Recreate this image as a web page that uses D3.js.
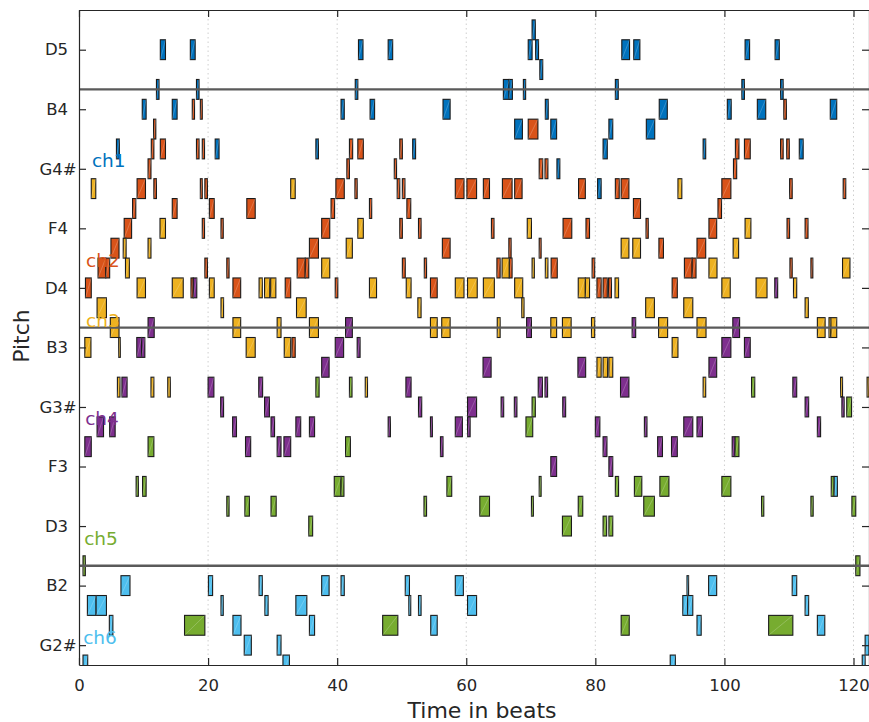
<!DOCTYPE html>
<html lang="en">
<head>
<meta charset="utf-8">
<script src="https://d3js.org/d3.v7.min.js"></script>
<style>
  body { margin: 0; background: #fff; }
  text { font-family: "DejaVu Sans", sans-serif; }
</style>
</head>
<body>
<svg width="869" height="722"></svg>
<script>
// notes as [start beat, duration, midi pitch]
var ch1 = [
  [12.6,0.8,74],[17.25,0.75,74],[43.3,0.7,74],[47.9,0.7,74],[69.6,0.6,74],[70.75,0.45,74],[84.1,1.2,74],[85.95,0.95,74],[103.2,0.7,74],[107.85,0.65,74],
  [70.2,0.5,75],[71.4,0.45,73],
  [12.0,0.4,72],[18.2,0.4,72],[42.8,0.4,72],[65.75,0.95,72],[66.6,0.55,72],[68.85,0.35,72],[83.1,0.45,72],[102.7,0.4,72],[108.7,0.4,72],
  [9.8,0.6,71],[14.45,0.75,71],[40.6,0.5,71],[45.1,0.7,71],[56.4,1.1,71],[72.25,0.45,71],[89.9,1.25,71],[100.45,0.6,71],[105.1,1.3,71],[116.4,1.0,71],
  [67.5,1.2,70],[73.1,0.9,70],[82.1,0.6,70],[87.9,1.3,70],
  [5.8,0.45,69],[21.1,0.6,69],[36.7,0.4,69],[51.7,0.45,69],[81.2,0.65,69],[96.7,0.4,69],[111.6,0.6,69],
  [74.05,0.45,68],[80.35,0.55,67]
];
var ch2 = [
  [17.55,0.35,71],[18.8,0.3,71],[109.2,0.4,71],
  [11.55,0.35,70],[69.6,1.5,70],
  [11.2,0.4,69],[12.6,0.8,69],[18.2,0.4,69],[19.1,0.35,69],[41.9,0.5,69],[43.2,0.85,69],[49.7,0.4,69],[101.7,0.55,69],[103.1,0.9,69],[108.7,0.4,69],[109.65,0.4,69],
  [10.7,0.45,68],[41.5,0.4,68],[48.85,0.35,68],[71.3,0.55,68],[72.2,0.45,68],[101.4,0.5,68],
  [9.0,1.3,67],[11.6,0.4,67],[18.8,0.3,67],[19.5,0.4,67],[39.8,1.3,67],[42.75,0.35,67],[49.3,0.4,67],[50.1,0.4,67],[58.3,1.35,67],[60.1,1.5,67],[62.65,0.95,67],[65.6,1.5,67],[67.5,1.15,67],[77.4,1.05,67],[83.1,0.6,67],[84.0,1.2,67],[99.6,1.4,67],[110.1,0.4,67],[118.4,0.4,67],
  [8.3,0.5,66],[14.45,0.75,66],[20.2,0.75,66],[26.0,1.3,66],[39.05,0.55,66],[45.0,0.35,66],[50.8,0.6,66],[85.9,1.1,66],[99.0,0.55,66],
  [7.0,1.15,65],[37.6,1.25,65],[75.0,1.35,65],[97.6,1.2,65],[19.1,0.35,65],[22.0,0.35,65],[49.7,0.4,65],[52.6,0.4,65],[63.9,0.4,65],[78.55,0.55,65],[87.85,0.35,65],[109.7,0.4,65],[112.5,0.45,65],
  [4.95,1.25,64],[35.7,1.4,64],[56.3,1.2,64],[89.85,0.7,64],[95.75,1.35,64],[66.6,0.35,64],[71.3,0.3,64],
  [2.95,1.2,63],[33.8,1.25,63],[73.15,0.95,63],[79.5,0.4,63],[93.8,1.2,63],[4.15,0.6,63],[35.05,0.55,63],[53.5,0.35,63],[64.75,0.5,63],[66.65,0.45,63],[95.0,0.6,63],[19.5,0.4,63],[22.9,0.35,63],[50.1,0.45,63],[110.15,0.35,63],[113.4,0.3,63],
  [1.0,0.9,62],[23.85,1.2,62],[31.95,0.85,62],[54.45,1.05,62],[80.25,0.65,62],[81.2,0.65,62],[82.05,0.45,62],[91.9,0.8,62],[17.35,0.35,62],[39.7,0.4,62],
  [33.0,0.5,59]
];
var ch3 = [
  [1.9,0.7,67],[32.8,0.7,67],[92.8,0.6,67],
  [12.55,0.85,65],[43.2,0.85,65],[69.45,0.65,65],[103.2,0.9,65],
  [6.85,0.45,64],[10.7,0.45,64],[41.4,0.95,64],[84.0,1.2,64],[85.8,1.2,64],[101.35,0.85,64],
  [7.2,0.6,63],[37.6,1.25,63],[65.55,1.1,63],[70.2,0.35,63],[72.25,0.4,63],[97.6,1.25,63],[118.3,1.15,63],
  [9.0,1.3,62],[14.45,1.7,62],[20.2,0.75,62],[27.9,0.5,62],[28.75,0.8,62],[29.7,0.8,62],[45.0,1.1,62],[50.7,0.75,62],[58.3,1.35,62],[60.2,1.5,62],[62.65,1.7,62],[67.5,1.25,62],[77.35,1.1,62],[78.45,0.65,62],[83.05,0.55,62],[99.6,1.3,62],[104.9,1.7,62],[110.7,0.5,62],
  [2.8,1.45,61],[22.0,0.4,61],[33.7,1.5,61],[52.5,0.5,61],[68.6,0.35,61],[87.8,1.35,61],[93.7,1.4,61],[112.5,0.5,61],
  [4.85,1.35,60],[23.85,1.2,60],[30.7,0.6,60],[35.7,1.4,60],[54.45,1.05,60],[56.2,1.3,60],[64.8,0.45,60],[73.1,0.9,60],[74.9,1.35,60],[79.4,0.5,60],[89.8,1.4,60],[95.75,1.4,60],[114.4,1.2,60],[116.2,0.3,60],[116.5,0.9,60],
  [0.9,0.95,59],[25.9,1.4,59],[31.8,1.0,59],[91.9,0.9,59],[6.15,0.25,59],
  [80.25,0.65,58],[81.2,0.7,58],[82.1,0.6,58],
  [11.15,0.45,57],[5.95,0.4,57],[13.75,0.4,57],[44.35,0.35,57],[96.7,0.4,57],[118.0,0.3,57],[122.1,0.3,57]
];
var ch4 = [
  [17.7,0.55,62],[107.8,0.45,62],
  [10.7,0.95,60],[41.3,1.05,60],[69.35,0.75,60],[85.7,0.55,60],[101.3,1.05,60],
  [8.95,0.75,59],[9.7,0.5,59],[39.7,1.3,59],[43.1,0.45,59],[99.6,1.4,59],[103.1,0.9,59],
  [37.6,1.15,58],[62.6,1.25,58],[77.3,1.2,58],[97.6,1.2,58],
  [6.65,0.8,57],[20.0,0.9,57],[27.85,0.6,57],[50.65,0.8,57],[71.15,0.65,57],[72.2,0.4,57],[83.9,1.3,57],[110.6,0.6,57],
  [21.95,0.45,56],[65.4,0.4,56],[67.45,0.4,56],[118.2,0.35,56],[28.75,0.75,56],[52.6,0.5,56],[60.2,1.4,56],[74.95,0.45,56],[112.5,0.55,56],
  [2.8,1.0,55],[4.75,0.85,55],[23.8,0.6,55],[29.75,0.55,55],[33.6,0.75,55],[35.7,0.8,55],[58.3,1.1,55],[93.7,1.4,55],[95.75,0.85,55],[114.4,0.5,55],[47.9,0.35,55],[54.45,0.3,55],[60.2,0.4,55],[80.0,0.7,55],[87.6,0.4,55],
  [0.9,1.0,54],[25.8,0.8,54],[30.7,0.6,54],[31.75,1.05,54],[81.2,0.6,54],[89.65,0.75,54],[91.8,0.9,54],[56.0,0.4,54],[101.2,0.45,54],
  [73.1,0.9,53],[82.1,0.6,53]
];
var ch5 = [
  [36.7,0.5,57],[41.9,0.4,57],[104.2,0.5,57],
  [70.2,0.5,56],[118.95,0.75,56],
  [69.25,1.05,55],
  [10.7,0.9,54],[41.3,0.75,54],[101.65,0.6,54],
  [8.85,0.35,52],[39.55,1.05,52],[40.6,0.45,52],[57.0,0.75,52],[83.1,0.5,52],[86.05,1.15,52],[90.0,1.4,52],[99.6,1.4,52],[116.55,0.45,52],[9.85,0.55,52],[71.3,0.3,52],
  [22.9,0.35,51],[53.45,0.4,51],[70.1,0.3,51],[105.75,0.35,51],[113.4,0.35,51],[25.7,0.7,51],[29.75,0.8,51],[62.1,1.5,51],[77.35,0.7,51],[87.5,1.65,51],[119.75,0.6,51],
  [35.6,0.6,50],[74.9,1.4,50],[81.2,0.55,50],[82.1,0.6,50],
  [0.62,0.36,48],[120.35,0.65,48],
  [16.35,3.15,45],[47.05,2.35,45],[84.0,1.25,45],[106.85,3.75,45]
];
var ch6 = [
  [117.0,0.5,52],
  [6.5,1.4,47],[20.05,0.65,47],[27.9,0.5,47],[37.6,1.15,47],[40.6,0.5,47],[50.55,0.65,47],[58.3,1.25,47],[97.55,1.25,47],[110.5,0.7,47],[94.2,0.25,47],
  [1.3,1.35,46],[2.65,1.6,46],[28.8,0.5,46],[33.6,1.7,46],[60.2,1.4,46],[93.55,0.75,46],[94.3,0.8,46],[112.5,0.55,46],[22.0,0.35,46],[51.1,0.3,46],[52.6,0.4,46],
  [4.7,0.55,45],[23.85,1.25,45],[35.7,0.8,45],[54.5,1.0,45],[95.75,0.65,45],[114.4,1.15,45],
  [25.6,1.1,44],[30.7,0.6,44],[121.8,0.6,44],
  [0.62,0.73,43],[31.6,1.0,43],[91.6,0.8,43],[121.35,0.45,43]
];
var channelNames = ["ch1", "ch2", "ch3", "ch4", "ch5", "ch6"];
var pitchTicks = [44, 47, 50, 53, 56, 59, 62, 65, 68, 71, 74];
var pitchLabels = ["G2#", "B2", "D3", "F3", "G3#", "B3", "D4", "F4", "G4#", "B4", "D5"];
var beatTicks = [0, 20, 40, 60, 80, 100, 120];
var octaveLines = [48, 60, 72];

var colors = ["#0072BD", "#D95319", "#EDB120", "#7E2F8E", "#77AC30", "#4DBEEE"];
var labelPos = [[2.0, 68.1], [1.1, 63.05], [1.1, 60.05], [0.95, 55.1], [0.8, 49.05], [0.65, 44.05]];

var svg = d3.select("svg");
var mLeft = 79, mTop = 10, mRight = 869, mBottom = 665;
var x = d3.scaleLinear().domain([0, 122.4]).range([mLeft, mRight]);
var y = d3.scaleLinear().domain([43, 76]).range([mBottom, mTop]);
var ink = "#262626";

svg.append("clipPath").attr("id", "plot")
  .append("rect").attr("x", mLeft).attr("y", mTop).attr("width", mRight - mLeft).attr("height", mBottom - mTop);

// dotted vertical grid
svg.append("g").selectAll("line")
  .data(beatTicks.slice(1))
  .enter().append("line")
  .attr("x1", function(d) { return x(d); }).attr("x2", function(d) { return x(d); })
  .attr("y1", mTop).attr("y2", mBottom)
  .attr("stroke", "#cfcfcf").attr("stroke-width", 1).attr("stroke-dasharray", "1.5,3");

var all = [ch1, ch2, ch3, ch4, ch5, ch6];
var plot = svg.append("g").attr("clip-path", "url(#plot)");
all.forEach(function(notes, c) {
  var g = plot.append("g");
  g.selectAll("rect")
    .data(notes)
    .enter().append("rect")
    .attr("x", function(d) { return x(d[0]); })
    .attr("y", function(d) { return y(d[2] + 0.5); })
    .attr("width", function(d) { return x(d[0] + d[1]) - x(d[0]); })
    .attr("height", function(d) { return y(d[2] - 0.5) - y(d[2] + 0.5); })
    .attr("fill", colors[c])
    .attr("stroke", "#1a1a1a")
    .attr("stroke-width", 1.1);
  // faint diagonal seen inside each patch
  g.selectAll("line")
    .data(notes)
    .enter().append("line")
    .attr("x1", function(d) { return x(d[0]); })
    .attr("y1", function(d) { return y(d[2] - 0.5); })
    .attr("x2", function(d) { return x(d[0] + d[1]); })
    .attr("y2", function(d) { return y(d[2] + 0.5); })
    .attr("stroke", "#fff").attr("stroke-opacity", 0.3).attr("stroke-width", 0.7);
});

// octave lines
svg.append("g").selectAll("line")
  .data(octaveLines)
  .enter().append("line")
  .attr("x1", mLeft).attr("x2", mRight)
  .attr("y1", function(d) { return y(d); }).attr("y2", function(d) { return y(d); })
  .attr("stroke", "#5a5a5a").attr("stroke-width", 2.4);

// channel labels
svg.append("g").selectAll("text")
  .data(channelNames)
  .enter().append("text")
  .attr("x", function(d, i) { return x(labelPos[i][0]); })
  .attr("y", function(d, i) { return y(labelPos[i][1]); })
  .attr("fill", function(d, i) { return colors[i]; })
  .attr("font-size", "18.5px")
  .text(function(d) { return d; });

// axes
function styleAxis(g) {
  g.select(".domain").attr("stroke", ink).attr("stroke-width", 1.2);
  g.selectAll(".tick line").attr("stroke", ink).attr("stroke-width", 1.2);
  g.selectAll(".tick text").attr("fill", ink).attr("font-size", "16.5px")
    .attr("font-family", "DejaVu Sans, sans-serif");
}
var yAxis = svg.append("g").attr("transform", "translate(" + mLeft + ",0)")
  .call(d3.axisLeft(y).tickValues(pitchTicks).tickFormat(function(d, i) { return pitchLabels[i]; })
    .tickSize(-7).tickSizeOuter(0).tickPadding(2.5))
  .call(styleAxis);
// labels are padded to three characters, so the two-letter ones sit further left
yAxis.selectAll(".tick text")
  .attr("dx", function(d, i) { return pitchLabels[i].length < 3 ? -8.4 : 0; });

svg.append("g").attr("transform", "translate(" + mRight + ",0)")
  .call(d3.axisRight(y).tickValues(pitchTicks).tickFormat("").tickSize(-7).tickSizeOuter(0))
  .call(styleAxis);
svg.append("g").attr("transform", "translate(0," + mBottom + ")")
  .call(d3.axisBottom(x).tickValues(beatTicks).tickSize(-7).tickSizeOuter(0).tickPadding(14))
  .call(styleAxis);
svg.append("g").attr("transform", "translate(0," + mTop + ")")
  .call(d3.axisTop(x).tickValues(beatTicks).tickFormat("").tickSize(-7).tickSizeOuter(0))
  .call(styleAxis);

svg.append("text")
  .attr("x", 482).attr("y", 718)
  .attr("text-anchor", "middle").attr("fill", ink).attr("font-size", "22px")
  .text("Time in beats");
svg.append("text")
  .attr("transform", "translate(29,336) rotate(-90)")
  .attr("text-anchor", "middle").attr("fill", ink).attr("font-size", "22px")
  .text("Pitch");
</script>
</body>
</html>
